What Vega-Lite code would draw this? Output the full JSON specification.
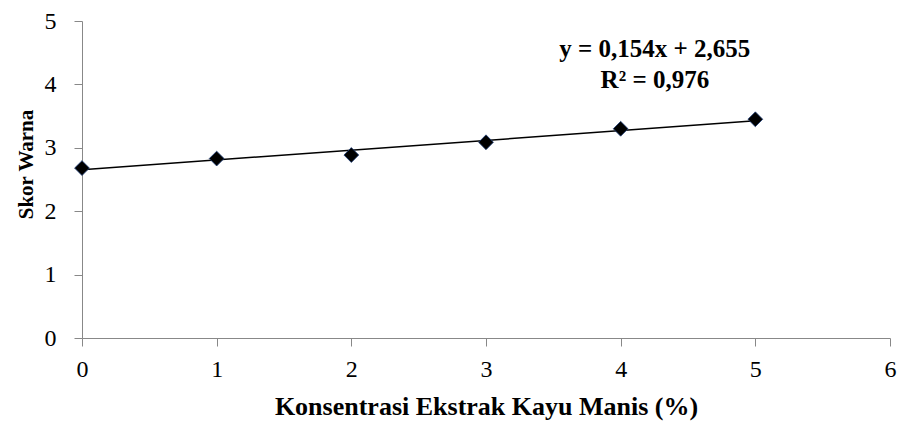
{
  "$schema": "https://vega.github.io/schema/vega-lite/v6.json",
  "width": 808,
  "height": 317,
  "autosize": {"type": "none"},
  "padding": {"left": 82, "top": 21, "right": 10, "bottom": 83},
  "background": "white",
  "config": {
    "view": {"stroke": null},
    "font": "Liberation Serif"
  },
  "datasets": {
    "points": [
      {"konsentrasi": 0, "skor": 2.68},
      {"konsentrasi": 1, "skor": 2.83},
      {"konsentrasi": 2, "skor": 2.886},
      {"konsentrasi": 3, "skor": 3.087},
      {"konsentrasi": 4, "skor": 3.30},
      {"konsentrasi": 5, "skor": 3.45}
    ],
    "trend": [
      {"konsentrasi": 0, "skor": 2.655},
      {"konsentrasi": 5, "skor": 3.425}
    ],
    "notes": [
      {"label": "y = 0,154x + 2,655", "line": 1},
      {"label": "R² = 0,976", "line": 2}
    ]
  },
  "layer": [
    {
      "data": {"name": "trend"},
      "mark": {"type": "line", "color": "black", "strokeWidth": 1.5},
      "encoding": {
        "x": {
          "field": "konsentrasi", "type": "quantitative",
          "scale": {"domain": [0, 6], "nice": false},
          "axis": {
            "title": "Konsentrasi Ekstrak Kayu Manis (%)",
            "values": [0, 1, 2, 3, 4, 5, 6],
            "format": "d",
            "grid": false,
            "domainColor": "#888888",
            "tickColor": "#888888",
            "tickSize": 8,
            "labelPadding": 11,
            "labelFontSize": 24,
            "labelColor": "black",
            "labelFlush": false,
            "titleFontSize": 26,
            "titleFontWeight": "bold",
            "titleColor": "black",
            "titleBaseline": "alphabetic",
            "titleY": 76
          }
        },
        "y": {
          "field": "skor", "type": "quantitative",
          "scale": {"domain": [0, 5], "nice": false},
          "axis": {
            "title": "Skor Warna",
            "values": [0, 1, 2, 3, 4, 5],
            "format": "d",
            "grid": false,
            "domainColor": "#888888",
            "tickColor": "#888888",
            "tickSize": 8,
            "labelPadding": 18,
            "labelFontSize": 24,
            "labelColor": "black",
            "labelFlush": false,
            "titleFontSize": 21,
            "titleFontWeight": "bold",
            "titleColor": "black",
            "titleAngle": -90,
            "titleAlign": "center",
            "titleBaseline": "alphabetic",
            "titleX": -50,
            "titleY": 143
          }
        }
      }
    },
    {
      "data": {"name": "points"},
      "mark": {"type": "point", "shape": "diamond", "filled": true, "fill": "black", "stroke": "#1F3F7A", "strokeWidth": 0.8, "size": 220, "opacity": 1},
      "encoding": {
        "x": {"field": "konsentrasi", "type": "quantitative"},
        "y": {"field": "skor", "type": "quantitative"}
      }
    },
    {
      "data": {"name": "notes"},
      "transform": [{"filter": "datum.line == 1"}],
      "mark": {"type": "text", "font": "Liberation Serif", "fontSize": 25, "fontWeight": "bold", "align": "center", "baseline": "alphabetic", "color": "black"},
      "encoding": {
        "text": {"field": "label"},
        "x": {"datum": 4.254, "type": "quantitative"},
        "y": {"datum": 4.43, "type": "quantitative"}
      }
    },
    {
      "data": {"name": "notes"},
      "transform": [{"filter": "datum.line == 2"}],
      "mark": {"type": "text", "font": "Liberation Serif", "fontSize": 25, "fontWeight": "bold", "align": "center", "baseline": "alphabetic", "color": "black"},
      "encoding": {
        "text": {"field": "label"},
        "x": {"datum": 4.254, "type": "quantitative"},
        "y": {"datum": 3.95, "type": "quantitative"}
      }
    }
  ]
}
